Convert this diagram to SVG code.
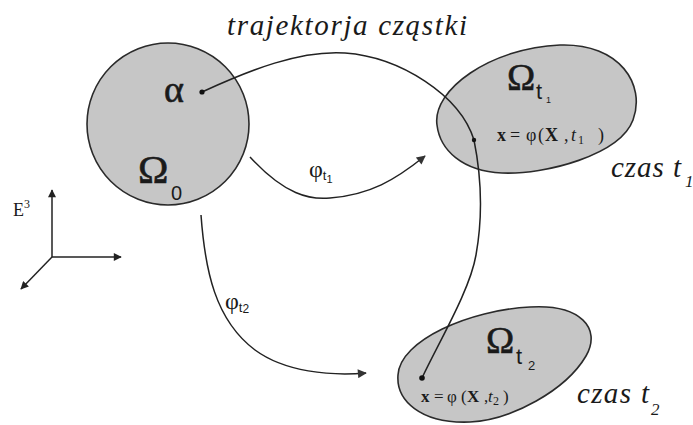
<svg xmlns="http://www.w3.org/2000/svg" width="693" height="425" viewBox="0 0 693 425">
<style>
.region{fill:#c6c6c6;stroke:#2a2a2a;stroke-width:1.6}
.line{fill:none;stroke:#222;stroke-width:1.5}
.serif{font-family:"Liberation Serif","DejaVu Serif",serif;fill:#1a1a1a}
.sans{font-family:"Liberation Sans","DejaVu Sans",sans-serif;fill:#1a1a1a}
.it{font-style:italic}
.b{font-weight:bold}
.heavy{stroke:#1a1a1a;stroke-width:0.6}
.dot{fill:#111}
</style>
<defs>
<marker id="arr" viewBox="0 0 10 10" refX="9" refY="5" markerWidth="12" markerHeight="8" markerUnits="userSpaceOnUse" orient="auto">
<path d="M0,0 L10,5 L0,10 Z" fill="#222"/>
</marker>
<marker id="arrL" viewBox="0 0 10 10" refX="9" refY="5" markerWidth="14" markerHeight="9" markerUnits="userSpaceOnUse" orient="auto">
<path d="M0,0 L10,5 L0,10 Z" fill="#333"/>
</marker>
</defs>

<text id="title" class="serif it" x="227" y="35" font-size="29" textLength="240" lengthAdjust="spacing">trajektorja cząstki</text>

<g id="node-omega0">
<circle class="region" cx="168" cy="124" r="81"/>
<text class="serif heavy" x="164" y="102" font-size="38">α</text>
<text class="serif heavy" x="138" y="183" font-size="41">Ω</text>
<text class="sans" x="171" y="200" font-size="20">0</text>
</g>

<g id="node-omegat1">
<path class="region" d="M437,125 C432,90 490,48 560,45 C620,43 646,85 633,120 C620,155 545,175 502,173 C462,171 440,150 437,125 Z"/>
<text class="serif heavy" x="507" y="90" font-size="38">Ω</text>
<text class="sans" x="536" y="99" font-size="22">t</text>
<text class="sans" x="546" y="103" font-size="9">1</text>
<text class="serif" y="141" font-size="18"><tspan class="b" x="497">x</tspan><tspan x="510">=</tspan><tspan x="526">φ</tspan><tspan x="538">(</tspan><tspan class="b" x="545">X</tspan><tspan x="564">,</tspan><tspan class="it" x="571">t</tspan><tspan x="578" font-size="12" dy="3">1</tspan><tspan x="598" dy="-3">)</tspan></text>
<text class="serif it" x="611" y="177" font-size="29" textLength="70" lengthAdjust="spacing">czas t</text>
<text class="serif it" x="685" y="187" font-size="17">1</text>
</g>

<g id="node-omegat2">
<path class="region" d="M398,375 C400,340 470,310 530,307 C580,304 602,328 586,356 C566,390 512,420 470,422 C420,424 396,400 398,375 Z"/>
<text class="serif heavy" x="486" y="353" font-size="38">Ω</text>
<text class="sans" x="516" y="364" font-size="22">t</text>
<text class="sans" x="528" y="370" font-size="13">2</text>
<text class="serif" y="402" font-size="17"><tspan class="b" x="421">x</tspan><tspan x="434">=</tspan><tspan x="447">φ</tspan><tspan x="461">(</tspan><tspan class="b" x="467">X</tspan><tspan x="484">,</tspan><tspan class="it" x="488">t</tspan><tspan x="493" font-size="12" dy="3">2</tspan><tspan x="503" dy="-3">)</tspan></text>
<text class="serif it" x="577" y="403" font-size="29" textLength="72" lengthAdjust="spacing">czas t</text>
<text class="serif it" x="651" y="415" font-size="17">2</text>
</g>

<g id="axes">
<line class="line" x1="52" y1="257" x2="52" y2="190" marker-end="url(#arr)"/>
<line class="line" x1="52" y1="257" x2="121" y2="257" marker-end="url(#arr)"/>
<line class="line" x1="52" y1="257" x2="21" y2="289" marker-end="url(#arr)"/>
<text class="serif" x="13" y="216" font-size="18">E<tspan font-size="12" dy="-8">3</tspan></text>
</g>

<g id="connectors">
<path id="trajectory" class="line" d="M202,92 C250,70 300,50 345,53 C400,57 460,95 474,140 C480,170 484,210 476,255 C470,290 440,340 422,378"/>
<circle class="dot" cx="202" cy="92" r="2.6"/>
<circle class="dot" cx="474" cy="140" r="2.2"/>
<circle class="dot" cx="422" cy="378" r="2.8"/>
<path id="phi-t1" class="line" d="M250,157 C285,195 310,200 330,198 C370,195 395,180 425,156" marker-end="url(#arrL)"/>
<text class="serif" x="309" y="177" font-size="24">φ<tspan class="sans" font-size="13" dy="3">t</tspan><tspan class="sans" font-size="11" dy="3">1</tspan></text>
<path id="phi-t2" class="line" d="M201,215 C205,270 215,320 255,350 C285,372 330,376 366,373" marker-end="url(#arrL)"/>
<text class="serif" x="225" y="309" font-size="24">φ<tspan class="sans" font-size="13" dy="3">t</tspan><tspan class="sans" font-size="12" dy="1">2</tspan></text>
</g>
</svg>
